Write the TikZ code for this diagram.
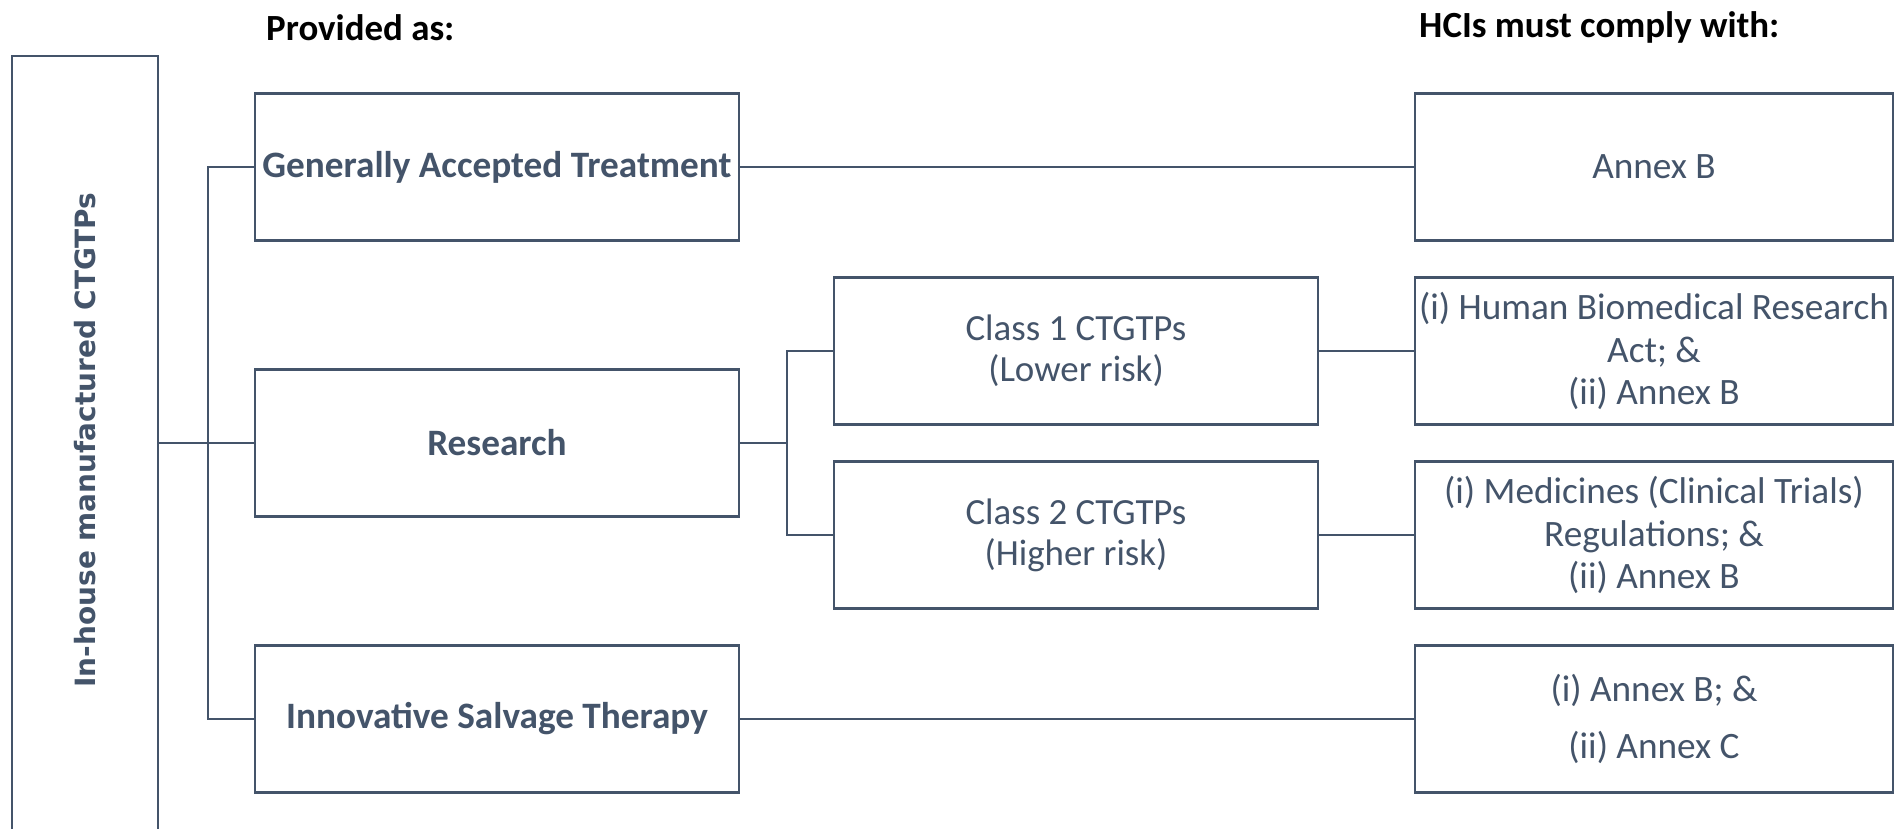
\documentclass[tikz,border=0pt]{standalone}
\usepackage{fontspec}
\setmainfont{Carlito}
\newfontfamily\sidefont{DejaVu Sans}
\definecolor{slate}{HTML}{44546A}

\begin{document}
\begin{tikzpicture}[node distance=5.52cm,
		base box/.style={draw=slate,line width=1.6pt,fill=white,text=slate,align=center,
			minimum width=9.68cm,minimum height=2.94cm,inner sep=1pt},
		kind box/.style={base box,font=\fontsize{21.2}{24}\selectfont\bfseries},
		class box/.style={base box,font=\fontsize{21}{23.4}\selectfont},
		rule box/.style={base box,minimum width=9.56cm,font=\fontsize{21.2}{24.4}\selectfont},
		side box/.style={draw=slate,line width=1.6pt,text=slate,rotate=90,
			minimum width=16.4cm,minimum height=2.92cm,font=\sidefont\fontsize{15.9}{18}\selectfont\bfseries},
		head/.style={anchor=west,font=\fontsize{21}{24}\selectfont\bfseries},
		link/.style={draw=slate,line width=1.6pt}]
		\useasboundingbox (0,0) rectangle (37.92,-16.56);
		% headings
		\node[head] (provided) at (5.2,-0.55) {Provided as:};
		\node[head] (comply) at (28.26,-0.55) {HCIs must comply with:};
		
		\node[side box] (side) at (1.70,-9.32) {\hspace*{1.04cm}In-house manufactured CTGTPs};
		
		\node[kind box] (gat) at (9.94,-3.34) {Generally Accepted Treatment};
		\node[kind box] (research) [below of=gat] {Research};
		\node[kind box] (ist) [below of=research] {Innovative Salvage Therapy};
		
		\node[class box] (class1) [right of=research,node distance=11.58cm,yshift=1.84cm] {Class 1 CTGTPs\\(Lower risk)};
		\node[class box] (class2) [right of=research,node distance=11.58cm,yshift=-1.84cm] {Class 2 CTGTPs\\(Higher risk)};
		
		\node[rule box] (annexB) [right of=gat,node distance=23.14cm] {Annex B};
		\node[rule box] (hbra) [right of=class1,node distance=11.56cm] {(i) Human Biomedical Research\\Act; \&\\(ii) Annex B};
		\node[rule box] (mctr) [right of=class2,node distance=11.56cm] {(i) Medicines (Clinical Trials)\\Regulations; \&\\(ii) Annex B};
		\node[rule box] (annexC) [right of=ist,node distance=23.14cm] {(i) Annex B; \&\\[8pt](ii) Annex C};
		
		\coordinate (bus) at (4.16,0);
		\coordinate (subbus) at (15.74,0);
		
		\path[link]
		(side.south |- research.west) -- (research.west)
		(gat.west) -- (gat.west -| bus) -- (ist.west -| bus) -- (ist.west)
		(research.east) -- (research.east -| subbus)
		(class1.west) -- (class1.west -| subbus) -- (class2.west -| subbus) -- (class2.west)
		(gat.east) -- (annexB.west)
		(class1.east) -- (hbra.west)
		(class2.east) -- (mctr.west)
		(ist.east) -- (annexC.west);
	\end{tikzpicture}
\end{document}
